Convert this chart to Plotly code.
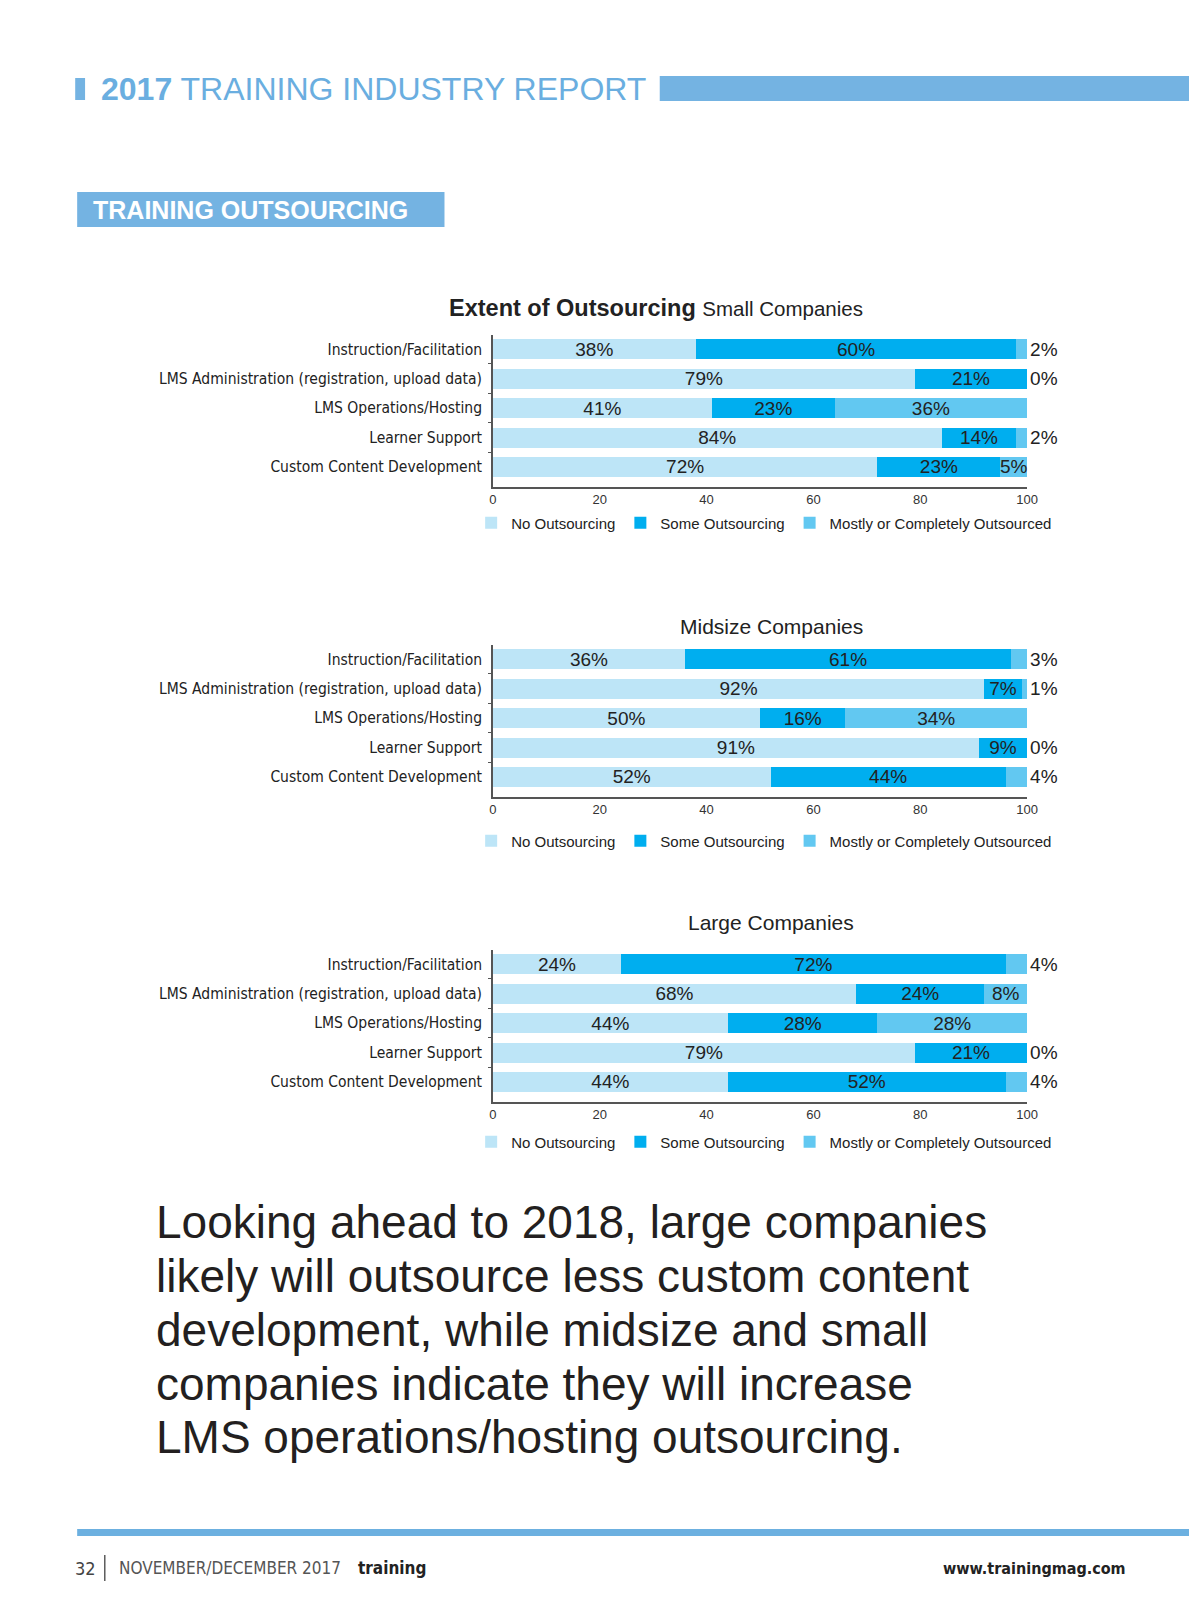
import plotly.graph_objects as go

# Page is 1200x1613; the browser body has an 8px margin, so the figure is offset by it.
PAGE_W, PAGE_H = 1200, 1613
OFF = 8
FW, FH = PAGE_W - OFF, PAGE_H - 2 * OFF

categories = [
    "Instruction/Facilitation",
    "LMS Administration (registration, upload data)",
    "LMS Operations/Hosting",
    "Learner Support",
    "Custom Content Development",
]
series_names = ["No Outsourcing", "Some Outsourcing", "Mostly or Completely Outsourced"]

small_none = [38, 79, 41, 84, 72]
small_some = [60, 21, 23, 14, 23]
small_most = [2, 0, 36, 2, 5]

mid_none = [36, 92, 50, 91, 52]
mid_some = [61, 7, 16, 9, 44]
mid_most = [3, 1, 34, 0, 4]

large_none = [24, 68, 44, 79, 44]
large_some = [72, 24, 28, 21, 52]
large_most = [4, 8, 28, 0, 4]

x_ticks = [0, 20, 40, 60, 80, 100]

panel_titles = ["Small Companies", "Midsize Companies", "Large Companies"]
headline = "Extent of Outsourcing"

body_lines = [
    "Looking ahead to 2018, large companies",
    "likely will outsource less custom content",
    "development, while midsize and small",
    "companies indicate they will increase",
    "LMS operations/hosting outsourcing.",
]

colors = ["#bde5f7", "#00aeef", "#62c8f1"]
ACCENT = "#74b3e2"
SANS = "Liberation Sans, Arial, Helvetica, sans-serif"
COND = "DejaVu Sans Condensed, Liberation Sans, Arial, sans-serif"


def px(p):
    return (p - OFF) / FW


def py(p):
    return 1 - (p - OFF) / FH


panels = [
    (small_none, small_some, small_most, (335, 487), "legend", 523),
    (mid_none, mid_some, mid_most, (645, 797), "legend2", 841),
    (large_none, large_some, large_most, (950, 1102), "legend3", 1142),
]

fig = go.Figure()
layout_axes = {}
legends = {}
for i, (none, some, most, (top, bot), legname, ly) in enumerate(panels):
    sfx = "" if i == 0 else str(i + 1)
    xa, ya = "x" + sfx, "y" + sfx
    for name, vals, color in zip(series_names, [none, some, most], colors):
        pos = ["outside" if (name == series_names[2] and v < 5) else "inside" for v in vals]
        fig.add_trace(go.Bar(
            y=categories, x=vals, orientation="h", name=name,
            marker=dict(color=color, line=dict(width=0)),
            text=[f"{v}%" for v in vals], textposition=pos,
            insidetextanchor="middle", constraintext="none", cliponaxis=False,
            textfont=dict(family=SANS, size=19, color="#222"),
            outsidetextfont=dict(family=SANS, size=19, color="#222"),
            insidetextfont=dict(family=SANS, size=19, color="#222"),
            width=0.68, xaxis=xa, yaxis=ya, legend=legname, hoverinfo="skip",
        ))
    layout_axes["xaxis" + sfx] = dict(
        domain=[px(495), px(1036)], range=[0, 100], tickvals=x_ticks,
        showline=True, linecolor="#555", linewidth=1.5, showgrid=False,
        zeroline=False, ticks="", anchor=ya, fixedrange=True,
        tickfont=dict(family=SANS, size=13, color="#333"),
    )
    layout_axes["yaxis" + sfx] = dict(
        domain=[py(bot), py(top)], type="category", range=[4.68, -0.48],
        categoryorder="array", categoryarray=categories,
        showline=True, linecolor="#555", linewidth=1.5, showgrid=False,
        ticks="outside", tickson="boundaries", ticklen=3, tickcolor="#555",
        anchor=xa, fixedrange=True, ticklabelstandoff=6,
        tickfont=dict(family=COND, size=15.5, color="#222"),
    )
    legends[legname] = dict(
        orientation="h", x=px(473), xanchor="left", y=py(ly), yanchor="middle",
        font=dict(family=SANS, size=15, color="#222"), bgcolor="rgba(0,0,0,0)",
        traceorder="normal",
    )

annotations = []
annotations.append(dict(
    x=px(449), y=py(308), xref="paper", yref="paper", xanchor="left", yanchor="middle",
    text=f"<b>{headline}</b> <span style='font-size:20.5px'>{panel_titles[0]}</span>",
    showarrow=False, font=dict(family=SANS, size=23.5, color="#222"),
))
for t, yy in zip(panel_titles[1:], [626, 922]):
    annotations.append(dict(
        x=px(777), y=py(yy), xref="paper", yref="paper", xanchor="center", yanchor="middle",
        text=t, showarrow=False, font=dict(family=SANS, size=21, color="#222"),
    ))

annotations.append(dict(
    x=px(96), y=py(89), xref="paper", yref="paper", xanchor="left", yanchor="middle",
    text="<b>2017</b> TRAINING INDUSTRY REPORT", showarrow=False,
    font=dict(family=SANS, size=32, color="#6aaee0"),
))
annotations.append(dict(
    x=px(88), y=py(210), xref="paper", yref="paper", xanchor="left", yanchor="middle",
    text="<b>TRAINING OUTSOURCING</b>", showarrow=False,
    font=dict(family=SANS, size=25, color="#ffffff"),
))

for line, yy in zip(body_lines, [1222, 1276, 1330, 1384, 1437]):
    annotations.append(dict(
        x=px(152), y=py(yy), xref="paper", yref="paper", xanchor="left", yanchor="middle",
        text=line, showarrow=False, font=dict(family=SANS, size=46, color="#231f20"),
    ))

annotations += [
    dict(x=px(70), y=py(1568), xref="paper", yref="paper", xanchor="left", yanchor="middle",
         text="32", showarrow=False, font=dict(family=COND, size=18, color="#444")),
    dict(x=px(114), y=py(1568), xref="paper", yref="paper", xanchor="left", yanchor="middle",
         text="NOVEMBER/DECEMBER 2017", showarrow=False,
         font=dict(family=COND, size=17, color="#555")),
    dict(x=px(356), y=py(1568), xref="paper", yref="paper", xanchor="left", yanchor="middle",
         text="<b>training</b>", showarrow=False, font=dict(family=COND, size=17, color="#222")),
    dict(x=px(1138), y=py(1568), xref="paper", yref="paper", xanchor="right", yanchor="middle",
         text="<b>www.trainingmag.com</b>", showarrow=False,
         font=dict(family=COND, size=16, color="#222")),
]

shapes = [
    dict(type="rect", xref="paper", yref="paper", x0=px(72), x1=px(82), y0=py(100), y1=py(78),
         fillcolor=ACCENT, line=dict(width=0)),
    dict(type="rect", xref="paper", yref="paper", x0=px(664), x1=1, y0=py(101), y1=py(76),
         fillcolor=ACCENT, line=dict(width=0)),
    dict(type="rect", xref="paper", yref="paper", x0=px(74), x1=px(446), y0=py(227), y1=py(192),
         fillcolor=ACCENT, line=dict(width=0)),
    dict(type="rect", xref="paper", yref="paper", x0=px(74), x1=1, y0=py(1536), y1=py(1529),
         fillcolor="#6cb0e0", line=dict(width=0)),
    dict(type="line", xref="paper", yref="paper", x0=px(102), x1=px(102), y0=py(1581), y1=py(1555),
         line=dict(color="#333", width=1.2)),
]

fig.update_layout(
    width=FW, height=FH, margin=dict(l=0, r=0, t=0, b=0),
    paper_bgcolor="white", plot_bgcolor="white",
    barmode="stack", showlegend=True,
    annotations=annotations, shapes=shapes,
    **layout_axes, **legends,
)

fig.write_html("out.html")
